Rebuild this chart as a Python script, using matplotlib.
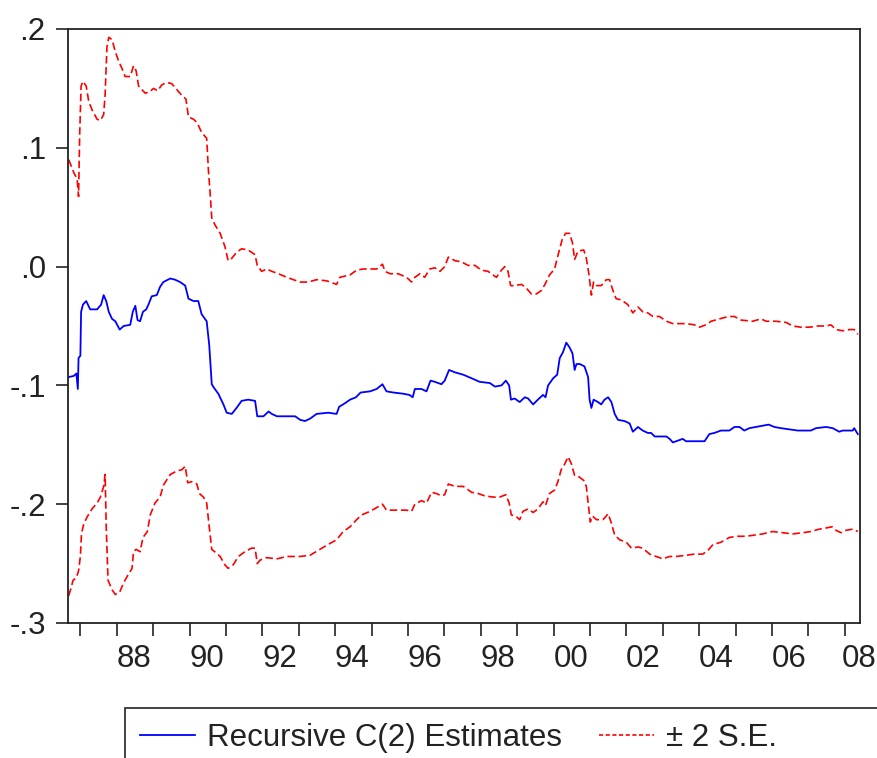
import matplotlib
matplotlib.use("Agg")
import matplotlib.pyplot as plt
import matplotlib.patches as mpatches
import matplotlib.transforms as mtransforms
from matplotlib.lines import Line2D

# recursive C(2) estimates (decimal years)
est_t = [1986.68, 1986.82, 1986.89, 1986.93, 1986.95, 1987.00, 1987.02, 1987.07,
         1987.16, 1987.27, 1987.46, 1987.57, 1987.64, 1987.71, 1987.78, 1987.87,
         1987.96, 1988.08, 1988.19, 1988.37, 1988.44, 1988.51, 1988.57, 1988.64,
         1988.72, 1988.81, 1988.87, 1988.96, 1989.10, 1989.19, 1989.28, 1989.47,
         1989.60, 1989.74, 1989.88, 1989.97, 1990.11, 1990.24, 1990.33, 1990.47,
         1990.54, 1990.61, 1990.67, 1990.79, 1990.93, 1991.02, 1991.16, 1991.29,
         1991.43, 1991.61, 1991.80, 1991.86, 1992.03, 1992.17, 1992.26, 1992.40,
         1992.67, 1992.90, 1993.04, 1993.17, 1993.31, 1993.49, 1993.81, 1994.04,
         1994.11, 1994.27, 1994.41, 1994.57, 1994.70, 1994.96, 1995.14, 1995.30,
         1995.41, 1995.60, 1995.87, 1996.04, 1996.13, 1996.19, 1996.37, 1996.51,
         1996.62, 1996.74, 1996.92, 1997.01, 1997.13, 1997.29, 1997.52, 1997.75,
         1997.97, 1998.25, 1998.39, 1998.57, 1998.69, 1998.78, 1998.83, 1998.93,
         1999.07, 1999.21, 1999.30, 1999.44, 1999.57, 1999.71, 1999.78, 1999.85,
         1999.99, 2000.10, 2000.17, 2000.26, 2000.35, 2000.44, 2000.52, 2000.58,
         2000.63, 2000.72, 2000.85, 2000.95, 2000.99, 2001.04, 2001.10, 2001.22,
         2001.31, 2001.40, 2001.50, 2001.59, 2001.68, 2001.77, 2001.95, 2002.09,
         2002.18, 2002.32, 2002.45, 2002.59, 2002.68, 2002.78, 2003.10, 2003.19,
         2003.28, 2003.37, 2003.55, 2003.64, 2004.15, 2004.28, 2004.42, 2004.60,
         2004.83, 2004.97, 2005.11, 2005.24, 2005.38, 2005.56, 2005.75, 2005.91,
         2006.07, 2006.25, 2006.48, 2006.71, 2007.07, 2007.21, 2007.49, 2007.67,
         2007.85, 2007.94, 2008.22, 2008.26, 2008.36]
est_v = [-0.093, -0.092, -0.090, -0.103, -0.077, -0.075, -0.038, -0.032,
         -0.029, -0.036, -0.036, -0.032, -0.024, -0.029, -0.038, -0.044,
         -0.046, -0.053, -0.050, -0.049, -0.038, -0.033, -0.045, -0.046,
         -0.038, -0.036, -0.032, -0.025, -0.024, -0.017, -0.013, -0.010,
         -0.011, -0.013, -0.016, -0.027, -0.029, -0.029, -0.040, -0.046,
         -0.066, -0.099, -0.102, -0.107, -0.116, -0.123, -0.124, -0.119,
         -0.113, -0.112, -0.113, -0.126, -0.126, -0.122, -0.124, -0.126,
         -0.126, -0.126, -0.129, -0.130, -0.128, -0.124, -0.123, -0.124,
         -0.118, -0.115, -0.112, -0.110, -0.106, -0.105, -0.103, -0.099,
         -0.105, -0.106, -0.107, -0.108, -0.110, -0.103, -0.103, -0.105,
         -0.096, -0.097, -0.099, -0.096, -0.087, -0.089, -0.091, -0.094,
         -0.097, -0.098, -0.101, -0.100, -0.096, -0.100, -0.112, -0.111,
         -0.114, -0.110, -0.111, -0.116, -0.112, -0.108, -0.110, -0.100,
         -0.094, -0.091, -0.077, -0.072, -0.064, -0.068, -0.073, -0.087,
         -0.082, -0.082, -0.084, -0.093, -0.112, -0.119, -0.112, -0.114,
         -0.116, -0.112, -0.110, -0.114, -0.124, -0.129, -0.130, -0.132,
         -0.139, -0.135, -0.138, -0.140, -0.140, -0.143, -0.143, -0.145,
         -0.148, -0.147, -0.145, -0.147, -0.147, -0.141, -0.140, -0.138,
         -0.138, -0.135, -0.135, -0.138, -0.136, -0.135, -0.134, -0.133,
         -0.135, -0.136, -0.137, -0.138, -0.138, -0.136, -0.135, -0.136,
         -0.139, -0.138, -0.138, -0.136, -0.141]

# upper band (+2 S.E.)
up_t = [1986.68, 1986.82, 1986.91, 1986.95, 1986.98, 1987.02, 1987.07, 1987.16,
        1987.23, 1987.32, 1987.46, 1987.55, 1987.64, 1987.68, 1987.73, 1987.78,
        1987.87, 1987.96, 1988.05, 1988.14, 1988.23, 1988.37, 1988.46, 1988.53,
        1988.60, 1988.69, 1988.78, 1988.90, 1989.01, 1989.12, 1989.24, 1989.37,
        1989.51, 1989.65, 1989.79, 1989.90, 1989.97, 1990.11, 1990.21, 1990.33,
        1990.47, 1990.52, 1990.56, 1990.61, 1990.70, 1990.84, 1990.97, 1991.06,
        1991.16, 1991.29, 1991.43, 1991.61, 1991.80, 1991.86, 1991.98, 1992.12,
        1992.26, 1992.44, 1992.67, 1992.85, 1993.04, 1993.26, 1993.49, 1993.77,
        1994.04, 1994.13, 1994.41, 1994.59, 1994.77, 1995.14, 1995.30, 1995.37,
        1995.51, 1995.73, 1995.96, 1996.10, 1996.19, 1996.33, 1996.46, 1996.60,
        1996.74, 1996.88, 1997.01, 1997.11, 1997.29, 1997.47, 1997.65, 1997.84,
        1998.02, 1998.20, 1998.43, 1998.57, 1998.66, 1998.75, 1998.82, 1998.93,
        1999.12, 1999.25, 1999.39, 1999.53, 1999.67, 1999.78, 1999.89, 2000.03,
        2000.10, 2000.17, 2000.24, 2000.33, 2000.44, 2000.52, 2000.58, 2000.67,
        2000.83, 2000.90, 2000.97, 2001.04, 2001.10, 2001.18, 2001.31, 2001.45,
        2001.54, 2001.63, 2001.72, 2001.86, 2002.04, 2002.18, 2002.32, 2002.45,
        2002.59, 2002.73, 2002.91, 2003.10, 2003.28, 2003.64, 2003.87, 2004.01,
        2004.19, 2004.33, 2004.56, 2004.81, 2004.97, 2005.15, 2005.47, 2005.70,
        2005.84, 2006.11, 2006.39, 2006.57, 2006.80, 2007.03, 2007.26, 2007.49,
        2007.62, 2007.76, 2007.94, 2008.13, 2008.26, 2008.36]
up_v = [0.090, 0.079, 0.074, 0.059, 0.110, 0.152, 0.156, 0.152,
        0.139, 0.132, 0.124, 0.123, 0.128, 0.145, 0.185, 0.193,
        0.191, 0.181, 0.173, 0.167, 0.160, 0.160, 0.169, 0.165,
        0.152, 0.149, 0.146, 0.147, 0.150, 0.148, 0.153, 0.155,
        0.154, 0.149, 0.144, 0.141, 0.126, 0.124, 0.121, 0.113,
        0.108, 0.080, 0.064, 0.041, 0.035, 0.028, 0.017, 0.005,
        0.007, 0.012, 0.015, 0.014, 0.010, 0.001, -0.004, -0.002,
        -0.004, -0.006, -0.009, -0.011, -0.013, -0.013, -0.011, -0.012,
        -0.015, -0.009, -0.007, -0.003, -0.002, -0.002, 0.002, -0.004,
        -0.006, -0.006, -0.009, -0.013, -0.009, -0.006, -0.009, -0.002,
        -0.001, -0.004, 0.000, 0.008, 0.005, 0.004, 0.001, 0.001,
        -0.003, -0.004, -0.009, -0.003, 0.000, -0.004, -0.016, -0.016,
        -0.015, -0.018, -0.023, -0.023, -0.020, -0.014, -0.007, -0.002,
        0.007, 0.015, 0.023, 0.028, 0.028, 0.020, 0.006, 0.013,
        0.014, 0.007, -0.006, -0.024, -0.013, -0.016, -0.016, -0.011,
        -0.011, -0.020, -0.027, -0.028, -0.032, -0.039, -0.034, -0.038,
        -0.039, -0.042, -0.042, -0.046, -0.048, -0.048, -0.049, -0.051,
        -0.049, -0.046, -0.044, -0.042, -0.042, -0.045, -0.046, -0.044,
        -0.046, -0.046, -0.047, -0.050, -0.051, -0.051, -0.050, -0.050,
        -0.049, -0.053, -0.054, -0.053, -0.053, -0.057]

# lower band (-2 S.E.)
lo_t = [1986.68, 1986.73, 1986.80, 1986.89, 1986.95, 1987.00, 1987.03, 1987.09,
        1987.18, 1987.32, 1987.46, 1987.55, 1987.64, 1987.68, 1987.71, 1987.76,
        1987.87, 1987.96, 1988.08, 1988.19, 1988.32, 1988.42, 1988.46, 1988.53,
        1988.64, 1988.72, 1988.84, 1988.92, 1989.05, 1989.19, 1989.28, 1989.47,
        1989.65, 1989.79, 1989.88, 1989.95, 1990.06, 1990.20, 1990.27, 1990.38,
        1990.47, 1990.54, 1990.61, 1990.73, 1990.84, 1990.97, 1991.06, 1991.20,
        1991.34, 1991.52, 1991.70, 1991.80, 1991.86, 1991.94, 1992.12, 1992.40,
        1992.67, 1993.04, 1993.31, 1993.58, 1993.86, 1994.04, 1994.22, 1994.41,
        1994.59, 1994.73, 1994.96, 1995.19, 1995.30, 1995.41, 1995.69, 1995.96,
        1996.10, 1996.19, 1996.37, 1996.51, 1996.65, 1996.78, 1996.92, 1997.01,
        1997.11, 1997.29, 1997.52, 1997.75, 1997.93, 1998.11, 1998.34, 1998.52,
        1998.69, 1998.78, 1998.84, 1998.96, 1999.07, 1999.16, 1999.30, 1999.44,
        1999.57, 1999.71, 1999.78, 1999.89, 2000.03, 2000.12, 2000.21, 2000.31,
        2000.40, 2000.49, 2000.58, 2000.70, 2000.83, 2000.90, 2000.97, 2001.01,
        2001.07, 2001.18, 2001.36, 2001.50, 2001.59, 2001.68, 2001.82, 2002.00,
        2002.14, 2002.32, 2002.45, 2002.64, 2002.82, 2003.00, 2003.19, 2003.37,
        2003.64, 2003.87, 2004.10, 2004.24, 2004.38, 2004.60, 2004.83, 2005.06,
        2005.29, 2005.52, 2005.75, 2006.02, 2006.30, 2006.57, 2006.85, 2007.07,
        2007.30, 2007.49, 2007.65, 2007.76, 2007.90, 2008.03, 2008.22, 2008.36]
lo_v = [-0.277, -0.272, -0.264, -0.262, -0.256, -0.244, -0.225, -0.217,
        -0.211, -0.204, -0.199, -0.194, -0.185, -0.175, -0.219, -0.264,
        -0.272, -0.276, -0.274, -0.266, -0.259, -0.254, -0.240, -0.238,
        -0.240, -0.228, -0.223, -0.209, -0.199, -0.194, -0.184, -0.175,
        -0.172, -0.171, -0.168, -0.182, -0.181, -0.183, -0.191, -0.194,
        -0.199, -0.219, -0.238, -0.241, -0.244, -0.251, -0.254, -0.251,
        -0.244, -0.240, -0.237, -0.237, -0.250, -0.247, -0.245, -0.246,
        -0.244, -0.244, -0.243, -0.238, -0.233, -0.230, -0.223, -0.219,
        -0.213, -0.209, -0.206, -0.202, -0.200, -0.205, -0.205, -0.205,
        -0.206, -0.200, -0.197, -0.199, -0.190, -0.191, -0.193, -0.192,
        -0.183, -0.185, -0.185, -0.190, -0.191, -0.193, -0.194, -0.194,
        -0.192, -0.199, -0.209, -0.210, -0.213, -0.206, -0.204, -0.207,
        -0.204, -0.198, -0.201, -0.191, -0.188, -0.181, -0.171, -0.166,
        -0.160, -0.166, -0.176, -0.177, -0.180, -0.185, -0.204, -0.215,
        -0.210, -0.213, -0.213, -0.208, -0.216, -0.226, -0.230, -0.232,
        -0.237, -0.236, -0.237, -0.242, -0.244, -0.246, -0.244, -0.244,
        -0.243, -0.242, -0.242, -0.239, -0.234, -0.232, -0.228, -0.227,
        -0.227, -0.226, -0.225, -0.223, -0.224, -0.225, -0.224, -0.223,
        -0.221, -0.220, -0.219, -0.222, -0.224, -0.222, -0.221, -0.223]

year_ticks = list(range(1987, 2009))
label_years = list(range(1988, 2010, 2))
x_labels = ["88", "90", "92", "94", "96", "98", "00", "02", "04", "06", "08"]
y_ticks = [-0.3, -0.2, -0.1, 0.0, 0.1, 0.2]
y_labels = ["-.3", "-.2", "-.1", ".0", ".1", ".2"]

plt.rcParams["font.family"] = ["Liberation Sans", "DejaVu Sans"]
fs = 22.5
txt_col = "#222222"

fig = plt.figure(figsize=(8.78, 7.58), dpi=100)
ax = fig.add_axes([68/878, 1 - 623/758, 792/878, 594/758])

ax.plot(est_t, est_v, color="#0000ff", lw=1.3)
ax.plot(up_t, up_v, color="#ff0000", lw=1.2, linestyle=(0, (4.5, 2.2)))
ax.plot(lo_t, lo_v, color="#ff0000", lw=1.2, linestyle=(0, (4.5, 2.2)))

ax.set_xlim(1986.66, 2008.42)
ax.set_ylim(-0.3, 0.2)

ax.set_xticks(year_ticks)
ax.set_xticklabels([])
ax.set_yticks(y_ticks)
ax.set_yticklabels(y_labels, fontsize=fs, color=txt_col)
ax.tick_params(axis="both", direction="out", length=9, width=1.2, color="#222222")
ax.tick_params(axis="y", pad=7)

for sp in ax.spines.values():
    sp.set_linewidth(1.3)
    sp.set_color("#222222")

# year labels sit in the middle of each year (EViews style), below the ticks
lab_trans = ax.get_xaxis_transform() + mtransforms.ScaledTranslation(0, -15/72, fig.dpi_scale_trans)
for yr, lab in zip(label_years, x_labels):
    xpos = yr + 0.47 if yr < 2008 else yr + 0.4
    ax.text(xpos, 0, lab, transform=lab_trans, ha="center", va="top",
            fontsize=fs, color=txt_col, clip_on=False)

# legend box, cut off by the image edge like the original
fig.patches.append(mpatches.Rectangle((125/878, -0.05), 1.0, 0.05 + 50/758,
                                      transform=fig.transFigure, fill=False,
                                      edgecolor="#333333", lw=1.3))
handles = [Line2D([], [], color="#0000ff", lw=1.3),
           Line2D([], [], color="#ff0000", lw=1.2, linestyle=(0, (2.5, 1.5)))]
fig.legend(handles, ["Recursive C(2) Estimates", "\u00b1 2 S.E."],
           loc="upper left", bbox_to_anchor=(140/878, 1 - 723/758),
           ncol=2, frameon=False, fontsize=fs, borderpad=0, borderaxespad=0,
           handlelength=1.76, handletextpad=0.38, columnspacing=1.2,
           labelcolor=txt_col)

fig.savefig("out.png", dpi=100)
